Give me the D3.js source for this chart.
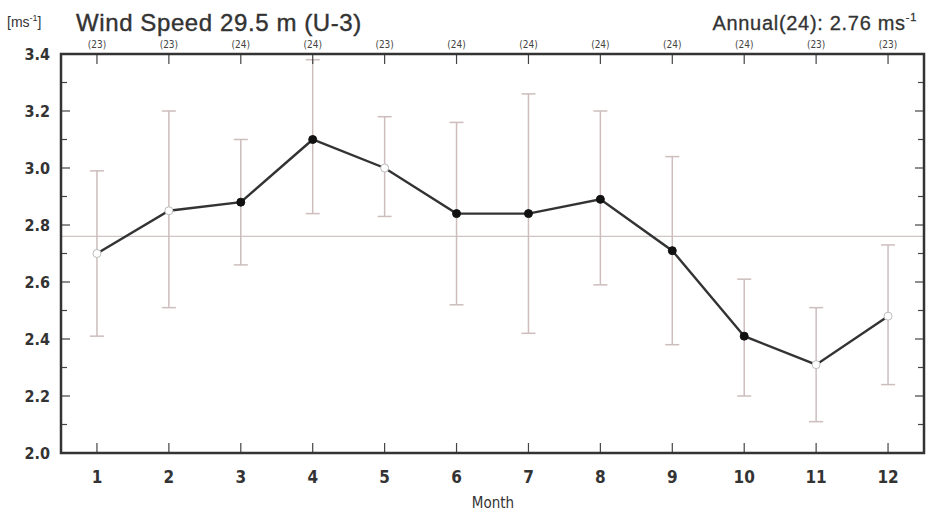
<!DOCTYPE html>
<html><head><meta charset="utf-8">
<script src="https://cdn.jsdelivr.net/npm/d3@7"></script>
<style>
body{margin:0;background:#fff;}
svg{display:block;}
.tk{font-family:"Liberation Sans Narrow","DejaVu Sans Condensed",sans-serif;font-weight:bold;fill:#333;}
</style></head>
<body><svg id="c" width="928" height="513"></svg>
<script>
const months = [1,2,3,4,5,6,7,8,9,10,11,12];
const counts = [23,23,24,24,23,24,24,24,24,24,23,23];
const meanVals = [2.70,2.85,2.88,3.10,3.00,2.84,2.84,2.89,2.71,2.41,2.31,2.48];
const upperVals = [2.99,3.20,3.10,3.38,3.18,3.16,3.26,3.20,3.04,2.61,2.51,2.73];
const lowerVals = [2.41,2.51,2.66,2.84,2.83,2.52,2.42,2.59,2.38,2.20,2.11,2.24];
const annualMean = 2.76;
const annualCount = 24;
const yTicks = [2.0,2.2,2.4,2.6,2.8,3.0,3.2,3.4];

const svg = d3.select("#c");
const L=61, R=924, T=54, B=453;
const x = d3.scaleLinear().domain([0.5,12.5]).range([L,R]);
const y = d3.scaleLinear().domain([2.0,3.4]).range([B,T]);

// reference line
svg.append("line").attr("x1",L).attr("x2",R).attr("y1",y(annualMean)).attr("y2",y(annualMean))
  .attr("stroke","#cfc4c4").attr("stroke-width",1.2);

// error bars
const eb = svg.append("g").attr("stroke","#cdbdbd").attr("stroke-width",1.5);
months.forEach((m,i)=>{
  eb.append("line").attr("x1",x(m)).attr("x2",x(m)).attr("y1",y(lowerVals[i])).attr("y2",y(upperVals[i]));
  [lowerVals[i],upperVals[i]].forEach(v=>{
    eb.append("line").attr("x1",x(m)-7).attr("x2",x(m)+7).attr("y1",y(v)).attr("y2",y(v));
  });
});

// line
svg.append("path").datum(months.map((m,i)=>[m,meanVals[i]]))
  .attr("fill","none").attr("stroke","#333").attr("stroke-width",2.4)
  .attr("d",d3.line().x(d=>x(d[0])).y(d=>y(d[1])));

// markers
svg.append("g").selectAll("circle").data(months).join("circle")
  .attr("cx",d=>x(d)).attr("cy",(d,i)=>y(meanVals[i])).attr("r",4)
  .attr("fill",(d,i)=>counts[i]===23?"#fff":"#111")
  .attr("stroke",(d,i)=>counts[i]===23?"#bbb":"#111").attr("stroke-width",1);

// axes ticks (inside)
const ax = svg.append("g").attr("stroke","#444").attr("stroke-width",1.2);
const minor = d3.range(2.0,3.41,0.1);
minor.forEach(v=>{
  const major = Math.abs(Math.round(v*10)%2)===0;
  const len = major?9:6;
  ax.append("line").attr("x1",L).attr("x2",L+len).attr("y1",y(v)).attr("y2",y(v));
  ax.append("line").attr("x1",R).attr("x2",R-len).attr("y1",y(v)).attr("y2",y(v));
});
months.forEach(m=>{
  ax.append("line").attr("x1",x(m)).attr("x2",x(m)).attr("y1",B).attr("y2",B-10);
  ax.append("line").attr("x1",x(m)).attr("x2",x(m)).attr("y1",T).attr("y2",T+10);
});

// frame
svg.append("rect").attr("x",L).attr("y",T).attr("width",R-L).attr("height",B-T)
  .attr("fill","none").attr("stroke","#333").attr("stroke-width",2.5);

// y labels
svg.append("g").selectAll("text").data(yTicks).join("text").attr("class","tk")
  .attr("x",50).attr("y",d=>y(d)+6).attr("text-anchor","end").attr("font-size",16)
  .text(d=>d.toFixed(1));

// x labels
svg.append("g").selectAll("text").data(months).join("text").attr("class","tk")
  .attr("x",d=>x(d)).attr("y",483).attr("text-anchor","middle").attr("font-size",17)
  .text(d=>d);

// counts
svg.append("g").selectAll("text").data(months).join("text")
  .attr("x",d=>x(d)).attr("y",48).attr("text-anchor","middle")
  .attr("font-family","Liberation Sans Narrow, DejaVu Sans Condensed, sans-serif")
  .attr("font-size",10).attr("fill","#444")
  .text((d,i)=>"("+counts[i]+")");

// x title
svg.append("text").attr("x",493).attr("y",508).attr("text-anchor","middle")
  .attr("font-family","Liberation Sans Narrow, DejaVu Sans Condensed, sans-serif")
  .attr("font-size",15).attr("fill","#333").text("Month");

// unit label
const u = svg.append("text").attr("x",7).attr("y",27).attr("font-family","Liberation Sans Narrow, Arial, sans-serif")
  .attr("font-size",14).attr("fill","#333");
u.append("tspan").text("[ms");
u.append("tspan").attr("dy",-6).attr("font-size",9).text("-1");
u.append("tspan").attr("dy",6).text("]");

// title
svg.append("text").attr("x",76).attr("y",31).attr("font-family","Liberation Sans, Arial, sans-serif")
  .attr("font-size",24).attr("fill","#333").attr("stroke","#333").attr("stroke-width",0.4)
  .attr("letter-spacing",0.6).text("Wind Speed 29.5 m (U-3)");

// annual
const a = svg.append("text").attr("x",917).attr("y",30).attr("text-anchor","end")
  .attr("font-family","Liberation Sans, Arial, sans-serif").attr("font-size",20).attr("fill","#333")
  .attr("stroke","#333").attr("stroke-width",0.3).attr("letter-spacing",0.7);
a.append("tspan").text("Annual("+annualCount+"): "+annualMean.toFixed(2)+" ms");
a.append("tspan").attr("dy",-9).attr("font-size",11).text("-1");
</script></body></html>
